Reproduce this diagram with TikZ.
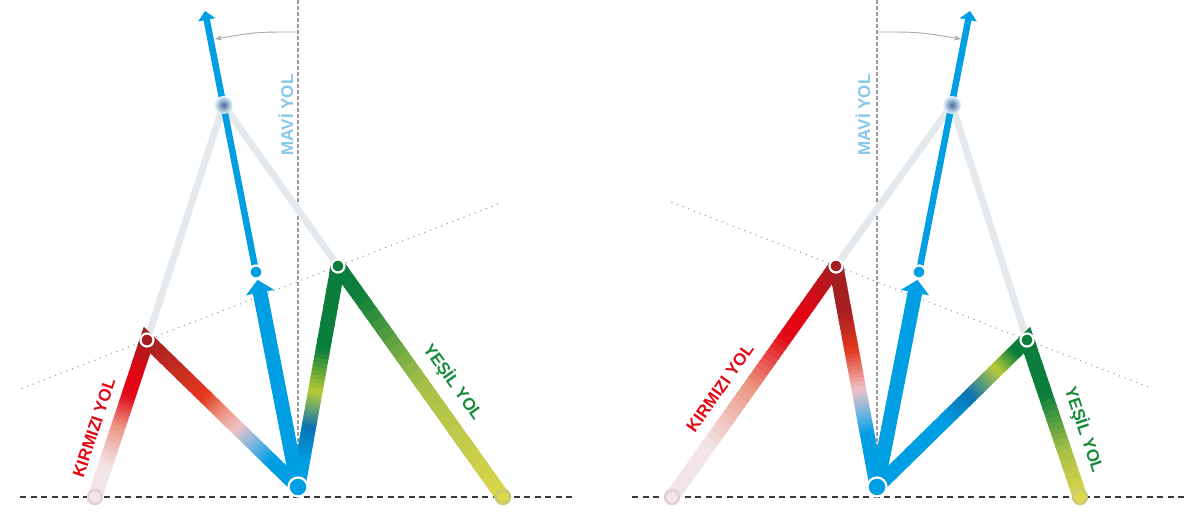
\documentclass[tikz,border=0pt]{standalone}
\usepackage{fontspec}
\setmainfont{Liberation Sans}
\usepackage{xcolor}
\definecolor{kblue}{HTML}{009FE3}
\definecolor{kdarkblue}{HTML}{0A72B4}
\definecolor{klightblue}{HTML}{6CB4E0}
\definecolor{kred}{HTML}{E30613}
\definecolor{kdarkred}{HTML}{A51E22}
\definecolor{korange}{HTML}{E3381E}
\definecolor{ksalmon}{HTML}{EC9583}
\definecolor{kpink}{HTML}{EEC3C7}
\definecolor{kpale}{HTML}{F3E5E7}
\definecolor{kgreen}{HTML}{0A7E3A}
\definecolor{klime}{HTML}{B8CC36}
\definecolor{kolive}{HTML}{A5BF48}
\definecolor{kyellow}{HTML}{DCD74B}
\definecolor{kgrey}{HTML}{E4E9EE}
\definecolor{kaxis}{HTML}{9A9A9A}
\definecolor{kball}{HTML}{4A6A9E}
\definecolor{ktextblue}{HTML}{86C8E8}
\definecolor{ktextgreen}{HTML}{178A3C}
\definecolor{kground}{HTML}{3A3A3A}
\definecolor{kpalering}{HTML}{E3CED2}
\definecolor{kyellowring}{HTML}{C7CA76}
\usepackage{tikz}
\usetikzlibrary{calc, arrows.meta}
\tikzstyle{bar} = [line width=14.5pt]
\tikzstyle{bluebar} = [bar, draw=kblue]
\tikzstyle{greybar} = [line width=7pt, draw=kgrey]
\tikzstyle{thinblue} = [line width=6.5pt, draw=kblue]
\tikzstyle{joint} = [
    circle, inner sep=0pt,
    minimum size=13pt,
    draw=white, line width=2.2pt,
]
\tikzstyle{bigjoint} = [joint, minimum size=19pt, fill=kblue]
\tikzstyle{endjoint} = [circle, inner sep=0pt, minimum size=14pt, line width=2.4pt]
\tikzstyle{sphere} = [
    circle, inner sep=0pt,
    minimum size=18pt,
    inner color=kball, outer color=white!90!kblue,
]
\tikzstyle{axisline} = [draw=kaxis, line width=1.2pt, dash pattern=on 4pt off 2pt]
\tikzstyle{groundline} = [draw=kground, line width=2.2pt, dash pattern=on 6pt off 4.5pt]
\tikzstyle{dots} = [draw=kaxis, line width=1.5pt, line cap=round, dash pattern=on 0pt off 6pt]
\tikzstyle{anglearrow} = [draw=kaxis!85, line width=0.9pt, -{Stealth[length=7pt,width=5pt]}]
\tikzstyle{pathname} = [inner sep=0pt, font=\fontsize{17}{17}\selectfont\bfseries]

% one colour step of a bar, from t0 to t1 along (a)--(b)
\newcommand\gradpart[6]{%
  \foreach \k in {0,...,9}{%
    \pgfmathsetmacro\ta{#3+(#4-#3)*\k/10}%
    \pgfmathsetmacro\tb{#3+(#4-#3)*(\k+1.3)/10}%
    \pgfmathtruncatemacro\mix{100-(\k+0.5)*10}%
    \draw[bar, draw=#5!\mix!#6] ($(#1)!\ta!(#2)$) -- ($(#1)!\tb!(#2)$);
  }}

\begin{document}
\begin{tikzpicture}[x=1pt, y=-1pt]
    \fill[white] (0,0) rectangle (1200,518);
    \useasboundingbox (0,0) rectangle (1200,518);

    % points, left
    \coordinate (originL) at (298,487);
    \coordinate (redendL) at (95,497);
    \coordinate (redkneeL) at (147,340);
    \coordinate (greenkneeL) at (338,266);
    \coordinate (greenendL) at (503,497);
    \coordinate (bluedotL) at (256,272);
    \coordinate (topL) at (223.5,105);
    \coordinate (tipL) at (205,11);
    \coordinate (axistopL) at (298,0);
    \coordinate (groundaL) at (20,497);
    \coordinate (groundbL) at (572,497);
    \coordinate (arcaL) at (298,32);
    \coordinate (arcbL) at (256,32);
    \coordinate (arccL) at (215,39);

    % points, right
    \coordinate (originR) at (877,487);
    \coordinate (redendR) at (672,497);
    \coordinate (redkneeR) at (836,266);
    \coordinate (greenkneeR) at (1027,340);
    \coordinate (greenendR) at (1080,497);
    \coordinate (bluedotR) at (919,272);
    \coordinate (topR) at (952,105);
    \coordinate (tipR) at (970,11);
    \coordinate (axistopR) at (877,0);
    \coordinate (groundaR) at (632,497);
    \coordinate (groundbR) at (1185,497);
    \coordinate (arcaR) at (877,32);
    \coordinate (arcbR) at (919,32);
    \coordinate (arccR) at (961,39);

    % guide lines
    \draw[groundline] (groundaL) -- (groundbL);
    \draw[groundline] (groundaR) -- (groundbR);
    \draw[axisline] (axistopL) -- (originL);
    \draw[axisline] (axistopR) -- (originR);
    \draw[dots] ($(redkneeL)!-0.654!(greenkneeL)$) -- ($(redkneeL)!1.864!(greenkneeL)$);
    \draw[dots] ($(redkneeR)!-0.859!(greenkneeR)$) -- ($(redkneeR)!1.66!(greenkneeR)$);
    \draw[anglearrow] (arcaL) .. controls (arcbL) .. (arccL);
    \draw[anglearrow] (arcaR) .. controls (arcbR) .. (arccR);

    % grey links
    \draw[greybar] (redkneeL) -- (topL) -- (greenkneeL);
    \draw[greybar] (redkneeR) -- (topR) -- (greenkneeR);

    % bars, left
    \foreach \sa/\sb/\ca/\cb in {0/0.2/kpale/kpale, 0.2/0.45/kpale/ksalmon, 0.45/0.65/ksalmon/kred,
        0.65/0.78/kred/kred, 0.78/1/kred/kdarkred}
        {\gradpart{redendL}{redkneeL}{\sa}{\sb}{\ca}{\cb}}
    \foreach \sa/\sb/\ca/\cb in {0/0.38/kdarkred/korange, 0.38/0.5/korange/ksalmon, 0.5/0.6/ksalmon/kpink,
        0.6/0.72/kpink/klightblue, 0.72/0.82/klightblue/kblue, 0.82/1/kblue/kblue}
        {\gradpart{redkneeL}{originL}{\sa}{\sb}{\ca}{\cb}}
    \foreach \sa/\sb/\ca/\cb in {0/0.12/kblue/kblue, 0.12/0.27/kblue/kdarkblue, 0.27/0.43/kdarkblue/klime,
        0.43/0.62/klime/kgreen, 0.62/1/kgreen/kgreen}
        {\gradpart{originL}{greenkneeL}{\sa}{\sb}{\ca}{\cb}}
    \foreach \sa/\sb/\ca/\cb in {0/0.12/kgreen/kgreen, 0.12/0.5/kgreen/kolive, 0.5/1/kolive/kyellow}
        {\gradpart{greenkneeL}{greenendL}{\sa}{\sb}{\ca}{\cb}}

    % bars, right
    \foreach \sa/\sb/\ca/\cb in {0/0.22/kpale/kpale, 0.22/0.48/kpale/ksalmon, 0.48/0.7/ksalmon/kred,
        0.7/0.8/kred/kred, 0.8/1/kred/kdarkred}
        {\gradpart{redendR}{redkneeR}{\sa}{\sb}{\ca}{\cb}}
    \foreach \sa/\sb/\ca/\cb in {0/0.2/kdarkred/kdarkred, 0.2/0.38/kdarkred/korange, 0.38/0.56/korange/kpink,
        0.56/0.67/kpink/klightblue, 0.67/0.76/klightblue/kblue, 0.76/1/kblue/kblue}
        {\gradpart{redkneeR}{originR}{\sa}{\sb}{\ca}{\cb}}
    \foreach \sa/\sb/\ca/\cb in {0/0.45/kblue/kblue, 0.45/0.62/kblue/kdarkblue, 0.62/0.8/kdarkblue/klime,
        0.8/0.92/klime/kgreen, 0.92/1/kgreen/kgreen}
        {\gradpart{originR}{greenkneeR}{\sa}{\sb}{\ca}{\cb}}
    \foreach \sa/\sb/\ca/\cb in {0/0.35/kgreen/kgreen, 0.35/0.7/kgreen/kolive, 0.7/1/kolive/kyellow}
        {\gradpart{greenkneeR}{greenendR}{\sa}{\sb}{\ca}{\cb}}

    % knees
    \draw[bar, draw=kdarkred, line join=miter, miter limit=2] ($(redkneeL)!8pt!(redendL)$) -- (redkneeL) -- ($(redkneeL)!8pt!(originL)$);
    \draw[bar, draw=kgreen, line join=miter, miter limit=2] ($(greenkneeL)!8pt!(originL)$) -- (greenkneeL) -- ($(greenkneeL)!8pt!(greenendL)$);
    \draw[bar, draw=kdarkred, line join=miter, miter limit=2] ($(redkneeR)!8pt!(redendR)$) -- (redkneeR) -- ($(redkneeR)!8pt!(originR)$);
    \draw[bar, draw=kgreen, line join=miter, miter limit=2] ($(greenkneeR)!8pt!(originR)$) -- (greenkneeR) -- ($(greenkneeR)!8pt!(greenendR)$);

    % blue arrows
    \draw[bluebar, -{Triangle[length=13pt,width=28pt]}, shorten >=8pt] (originL) -- (bluedotL);
    \draw[thinblue, -{Triangle[length=9pt,width=17pt]}] (bluedotL) -- (tipL);
    \draw[bluebar, -{Triangle[length=13pt,width=28pt]}, shorten >=8pt] (originR) -- (bluedotR);
    \draw[thinblue, -{Triangle[length=9pt,width=17pt]}] (bluedotR) -- (tipR);

    % dots
    \node[endjoint, fill=kpale, draw=kpalering] (redendLdot) at (redendL) {};
    \node[joint, fill=kdarkred] (redkneeLdot) at (redkneeL) {};
    \node[joint, fill=kgreen] (greenkneeLdot) at (greenkneeL) {};
    \node[endjoint, fill=kyellow, draw=kyellowring] (greenendLdot) at (greenendL) {};
    \node[joint, fill=kblue] (bluedotLdot) at (bluedotL) {};
    \node[bigjoint] (originLdot) at (originL) {};
    \node[sphere] (topLball) at (topL) {};

    \node[endjoint, fill=kpale, draw=kpalering] (redendRdot) at (redendR) {};
    \node[joint, fill=kdarkred] (redkneeRdot) at (redkneeR) {};
    \node[joint, fill=kgreen] (greenkneeRdot) at (greenkneeR) {};
    \node[endjoint, fill=kyellow, draw=kyellowring] (greenendRdot) at (greenendR) {};
    \node[joint, fill=kblue] (bluedotRdot) at (bluedotR) {};
    \node[bigjoint] (originRdot) at (originR) {};
    \node[sphere] (topRball) at (topR) {};

    % names
    \node[pathname, text=ktextblue, rotate=90] (blueL) at (286,115) {MAVİ YOL};
    \node[pathname, text=kred, rotate=71.7] (redL) at (94,428) {KIRMIZI YOL};
    \node[pathname, text=ktextgreen, rotate=-54.5] (greenL) at (453,382) {YEŞİL YOL};
    \node[pathname, text=ktextblue, rotate=90] (blueR) at (863,115) {MAVİ YOL};
    \node[pathname, text=kred, rotate=54.6] (redR) at (720,388) {KIRMIZI YOL};
    \node[pathname, text=ktextgreen, rotate=-71.4] (greenR) at (1084,430) {YEŞİL YOL};
\end{tikzpicture}
\end{document}
